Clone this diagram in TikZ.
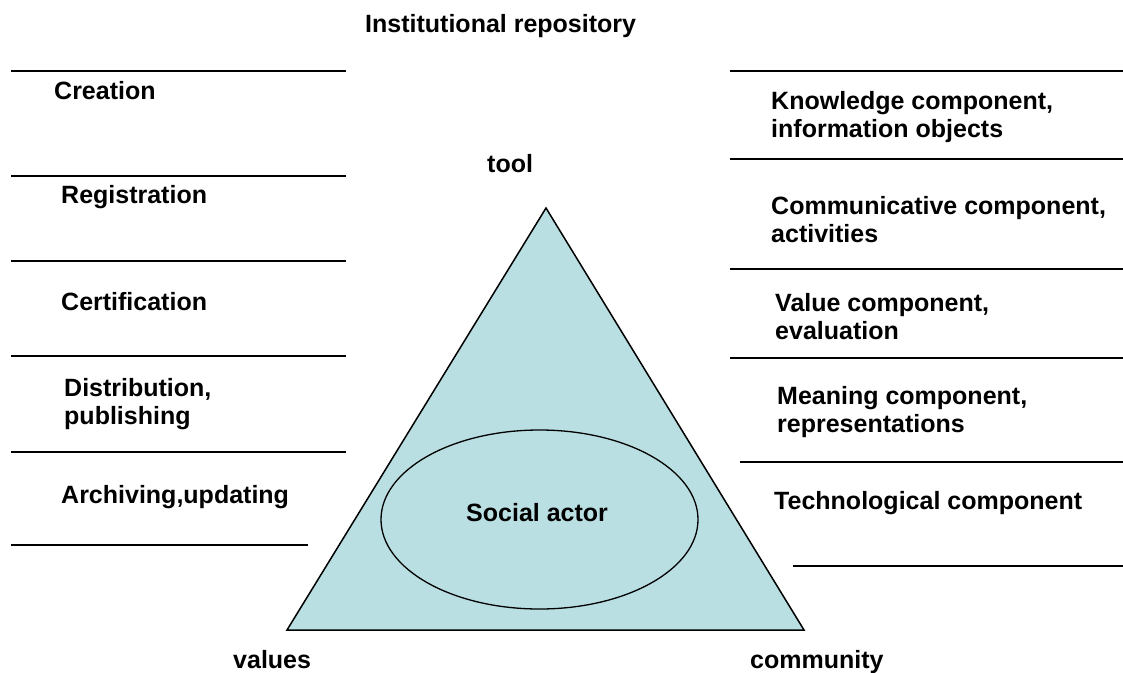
\documentclass[tikz,border=0pt]{standalone}
\usepackage{fontspec}
\setmainfont{Liberation Sans}
\usepackage{xcolor}
\definecolor{paleblue}{RGB}{185,223,226}

\begin{document}
\begin{tikzpicture}[x=1pt,y=-1pt,
  lbl/.style={anchor=base west, inner sep=0pt, align=left,
    font=\fontsize{25}{27.5}\selectfont\bfseries},
  rule/.style={line width=2pt}]
\useasboundingbox (0,0) rectangle (1123,672);
% separators, left column
\foreach \y in {71,176,261,356,452} \draw[rule] (11,\y) -- (346,\y);
\draw[rule] (11,545) -- (308,545);
% separators, right column
\foreach \x/\y in {730/71,730/159,730/269,730/358,740/462,793/566}
  \draw[rule] (\x,\y) -- (1123,\y);
% triangle and inner ellipse
\filldraw[fill=paleblue, line width=1.5pt, line join=miter] (546,208) -- (287,630) -- (804,630) -- cycle;
\draw[line width=1.3pt] (539.5,519.5) ellipse (158.5 and 89.5);
\node[lbl] (repo) at (365,32) {Institutional repository};
\node[lbl] (tool) at (487,172) {tool};
\node[lbl] (values) at (233,668) {values};
\node[lbl] (community) at (750,668) {community};
\node[lbl] (actor) at (466,521) {Social actor};
% left labels (two-line ones sit on their last line)
\node[lbl] (creation) at (54,99) {Creation};
\node[lbl] (registration) at (61,203) {Registration};
\node[lbl] (certification) at (61,310) {Certification};
\node[lbl] (distribution) at (64,424) {Distribution,\\publishing};
\node[lbl] (archiving) at (61,503) {Archiving,updating};
% right labels
\node[lbl] (knowledge) at (771,137) {Knowledge component,\\information objects};
\node[lbl] (communicative) at (771,242) {Communicative component,\\activities};
\node[lbl] (value) at (775,339) {Value component,\\evaluation};
\node[lbl] (meaning) at (777,432) {Meaning component,\\representations};
\node[lbl] (techno) at (774,509) {Technological component};
\end{tikzpicture}
\end{document}
